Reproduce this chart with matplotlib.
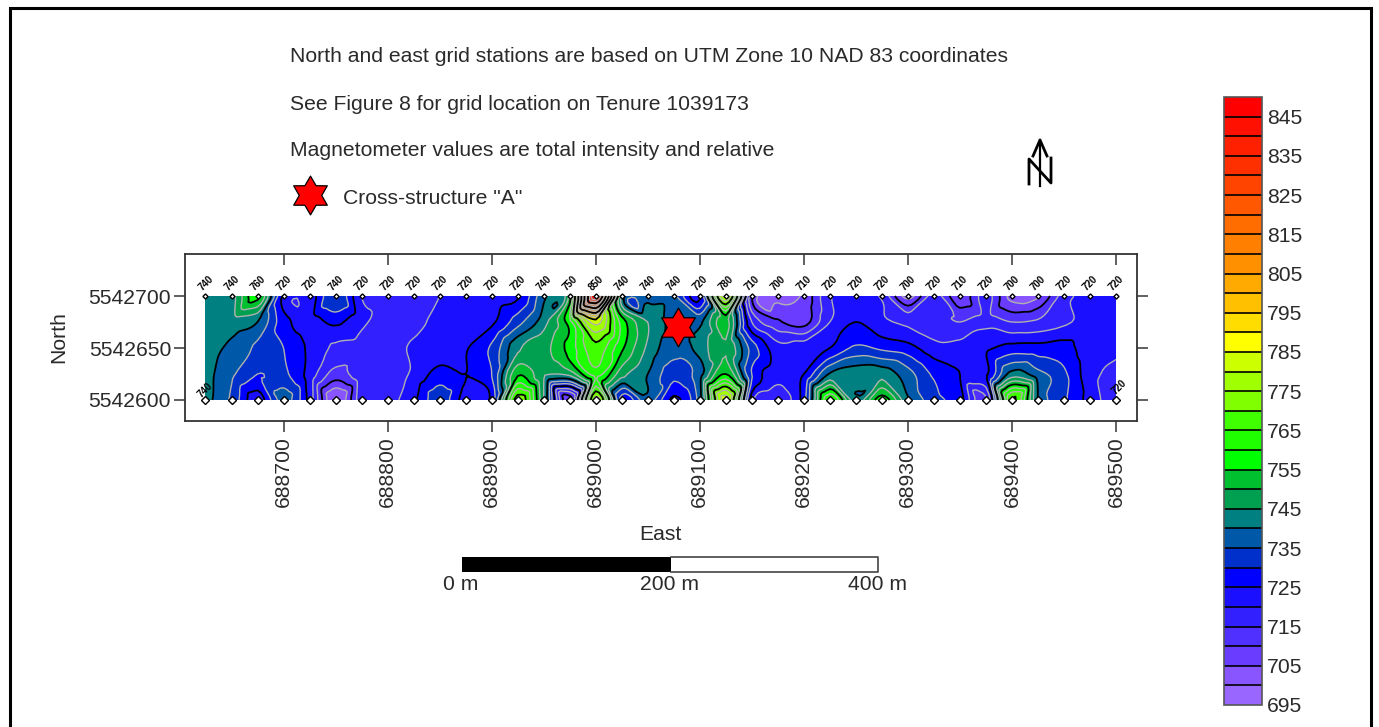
#
# magnetometer grid contour map
#
import matplotlib
matplotlib.use('Agg')
import matplotlib.pyplot as plt
import matplotlib.tri as mtri
import numpy as np
from matplotlib.colors import BoundaryNorm, ListedColormap
from matplotlib.path import Path

plt.rcParams['font.family'] = ['Liberation Sans', 'DejaVu Sans']

east = 688625 + 25 * np.arange(36)
north = [5542600, 5542625, 5542650, 5542675, 5542700]

# values read per grid row, west to east
row_600 = [742, 734, 722, 737, 723, 700, 718, 718, 724, 733, 723, 727, 773, 745, 708, 778, 728, 738,
           724, 738, 782, 722, 717, 728, 765, 742, 758, 741, 732, 727, 714, 770, 740, 731, 723, 716]
row_625 = [742, 736, 730, 731, 723, 713, 718, 717, 721, 727, 725, 730, 754, 746, 747, 762, 747, 740,
           732, 738, 755, 730, 722, 725, 740.5, 743, 743, 737, 729, 725, 724, 742, 737, 731, 722, 718]
row_650 = [743, 738.5, 734, 730, 724, 719, 718, 717, 721, 722, 724.5, 731, 744, 748, 757, 768, 756, 744,
           737, 742, 749.5, 733, 722, 723, 725, 731, 729, 727, 722, 722, 724, 727, 727, 727, 722, 721]
row_675 = [743, 743, 740, 727, 723, 726, 721, 718, 718, 722, 722, 724, 733, 743, 758, 782, 758, 745,
           738.5, 739, 752, 720, 711, 708, 720, 725, 721, 719, 717, 715, 718, 715, 716, 719, 722, 722]
row_700 = [742, 743, 757, 724, 722, 735, 720, 718, 718, 720, 721, 722, 724, 739, 752, 846, 745, 738,
           736, 725, 782, 711, 703, 706, 719.5, 722, 719, 703, 717, 706, 717, 703, 704, 717.5, 722, 722]

top_labels = ['740', '740', '760', '720', '720', '740', '720', '720', '720', '720', '720', '720',
              '720', '740', '750', '850', '740', '740', '740', '720', '780', '710', '700', '710',
              '720', '720', '720', '700', '720', '710', '720', '700', '700', '720', '720', '720']

levels = np.arange(695, 855, 5)
level_colors = ['#9966ff', '#8855ff', '#6a3cff', '#5030ff', '#3320ff', '#1a10ff', '#0000ff', '#0030cc',
                '#0058a8', '#008080', '#00a050', '#00c030', '#00ff00', '#20ff00', '#40ff00', '#80ff00',
                '#a0ff00', '#ccff00', '#ffff00', '#ffdd00', '#ffc000', '#ffaa00', '#ff9000', '#ff8000',
                '#ff6c00', '#ff5800', '#ff4400', '#ff3000', '#ff2000', '#ff1000', '#ff0000']
black_levels = np.arange(710, 850, 15)
grey_levels = [v for v in levels[1:-1] if v not in black_levels]

W, H = 1379, 727
text_color = '#2a2a2a'
fs = 15.2
fig = plt.figure(figsize=(W / 100, H / 100), dpi=100, facecolor='white')


def px_axes(left, top, right, bottom):
    return fig.add_axes([left / W, 1 - bottom / H, (right - left) / W, (bottom - top) / H])


# map
ax = px_axes(185, 254, 1137, 421)
ax.set_xlim(688605.3, 689520.2)
ax.set_ylim(5542579.8, 5542740.4)

grid_x, grid_y = np.meshgrid(east, north)
grid_z = np.array([row_600, row_625, row_650, row_675, row_700], float)
tri = mtri.Triangulation((grid_x.ravel() - east[0]) / 25.0, (grid_y.ravel() - north[0]) / 25.0)
interp = mtri.CubicTriInterpolator(tri, grid_z.ravel(), kind='geom')
refiner = mtri.UniformTriRefiner(tri)
fine_tri, fine_z = refiner.refine_field(grid_z.ravel(), triinterpolator=interp, subdiv=3)
fine_tri = mtri.Triangulation(fine_tri.x * 25.0 + east[0], fine_tri.y * 25.0 + north[0], fine_tri.triangles)
fine_z = np.clip(fine_z, 695.01, 849.9)

cmap = ListedColormap(level_colors)
norm = BoundaryNorm(levels, cmap.N)
cf = ax.tricontourf(fine_tri, fine_z, levels=levels, cmap=cmap, norm=norm)
ax.tricontour(fine_tri, fine_z, levels=grey_levels, colors='#b0b0b0', linewidths=1.0)
ax.tricontour(fine_tri, fine_z, levels=black_levels, colors='black', linewidths=1.3)

# station markers and top labels
ax.plot(east, [north[0]] * 36, ls='none', marker='D', ms=3.6, mfc='white', mec='black', mew=1.0, zorder=5)
ax.plot(east, [north[-1]] * 36, ls='none', marker='D', ms=2.6, mfc='white', mec='black', mew=1.0, zorder=5)
for e, lab in zip(east, top_labels):
    ax.annotate(lab, (e, north[-1]), xytext=(0.5, 9.5), textcoords='offset points', rotation=45, fontsize=7,
                fontweight='bold', ha='center', va='center', color='black',
                arrowprops=dict(arrowstyle='-', color='black', lw=0.8, shrinkA=0, shrinkB=0))
ax.annotate('740', (east[0], north[0]), xytext=(0, 7), textcoords='offset points', rotation=45, fontsize=7,
            fontweight='bold', ha='center', va='center', color='black', zorder=6)
ax.annotate('720', (east[-1], north[0]), xytext=(2, 9), textcoords='offset points', rotation=45, fontsize=7,
            fontweight='bold', ha='center', va='center', color='black', zorder=6)

star = Path.unit_regular_star(6, innerCircle=0.58)
ax.scatter([689079], [5542670], marker=star, s=780, c='#ff0000', edgecolors='black', linewidths=0.9, zorder=7)

xt = np.arange(688700, 689600, 100)
yt = [5542600, 5542650, 5542700]
ax.set_xticks(xt)
ax.set_xticklabels([str(v) for v in xt], rotation=90, fontsize=fs, color=text_color)
ax.set_yticks(yt)
ax.set_yticklabels([str(v) for v in yt], fontsize=fs, color=text_color)
ax.tick_params(axis='x', direction='out', length=8, width=1.2, color='#444444', pad=3, top=False)
ax.tick_params(axis='y', direction='out', length=8, width=1.2, color='#444444', pad=2, right=True)
top_ax = ax.secondary_xaxis('top')
top_ax.set_xticks(xt)
top_ax.set_xticklabels([])
top_ax.tick_params(direction='in', length=8, width=1.2, color='#444444')
top_ax.spines['top'].set_visible(False)
for s in ax.spines.values():
    s.set_linewidth(1.3)
    s.set_color('#333333')

# colour scale
cax = px_axes(1224, 97, 1262, 705)
cb = fig.colorbar(cf, cax=cax, drawedges=True, spacing='proportional', ticks=np.arange(695, 855, 10))
cb.dividers.set_color('black')
cb.dividers.set_linewidth(1.2)
cb.outline.set_edgecolor('#555555')
cb.outline.set_linewidth(1.2)
cax.tick_params(axis='y', length=0, pad=3.5, labelsize=fs, labelcolor=text_color)
cax.minorticks_off()

# page overlay in pixel coordinates
page = fig.add_axes([0, 0, 1, 1], zorder=10)
page.set_xlim(0, W)
page.set_ylim(H, 0)
page.axis('off')
page.patch.set_alpha(0)

page.plot([9.5, 9.5, 1371, 1371], [H, 7.5, 7.5, H], color='black', lw=2.2, solid_joinstyle='miter')

notes = ['North and east grid stations are based on UTM Zone 10 NAD 83 coordinates',
         'See Figure 8 for grid location on Tenure 1039173',
         'Magnetometer values are total intensity and relative']
for y, t in zip([57, 104, 151], notes):
    page.text(290.5, y, t, fontsize=fs, color=text_color, va='center', ha='left')
page.text(343, 198.5, 'Cross-structure "A"', fontsize=fs, color=text_color, va='center', ha='left')
page.scatter([310], [195], marker=star, s=780, c='#ff0000', edgecolors='black', linewidths=0.9)

page.text(59, 337, 'North', rotation=90, fontsize=fs, color=text_color, ha='center', va='center')
page.text(660, 535, 'East', fontsize=fs, color=text_color, ha='center', va='center')

# north arrow
page.plot([1040, 1040], [140, 186], color='black', lw=1.6)
page.plot([1033, 1040, 1047], [156, 140, 156], color='black', lw=2.0)
page.plot([1029, 1029, 1051, 1051], [184, 159, 183, 158], color='black', lw=2.0)

# scale bar
page.fill([462, 671, 671, 462], [557, 557, 572, 572], color='black', lw=0)
page.plot([671, 878, 878, 671], [557, 557, 572, 572], color='#444444', lw=1.2)
for x, t in zip([461, 670, 878], ['0 m', '200 m', '400 m']):
    page.text(x, 585, t, fontsize=fs, color=text_color, ha='center', va='center')

fig.savefig('out.png', dpi=100, facecolor='white')
